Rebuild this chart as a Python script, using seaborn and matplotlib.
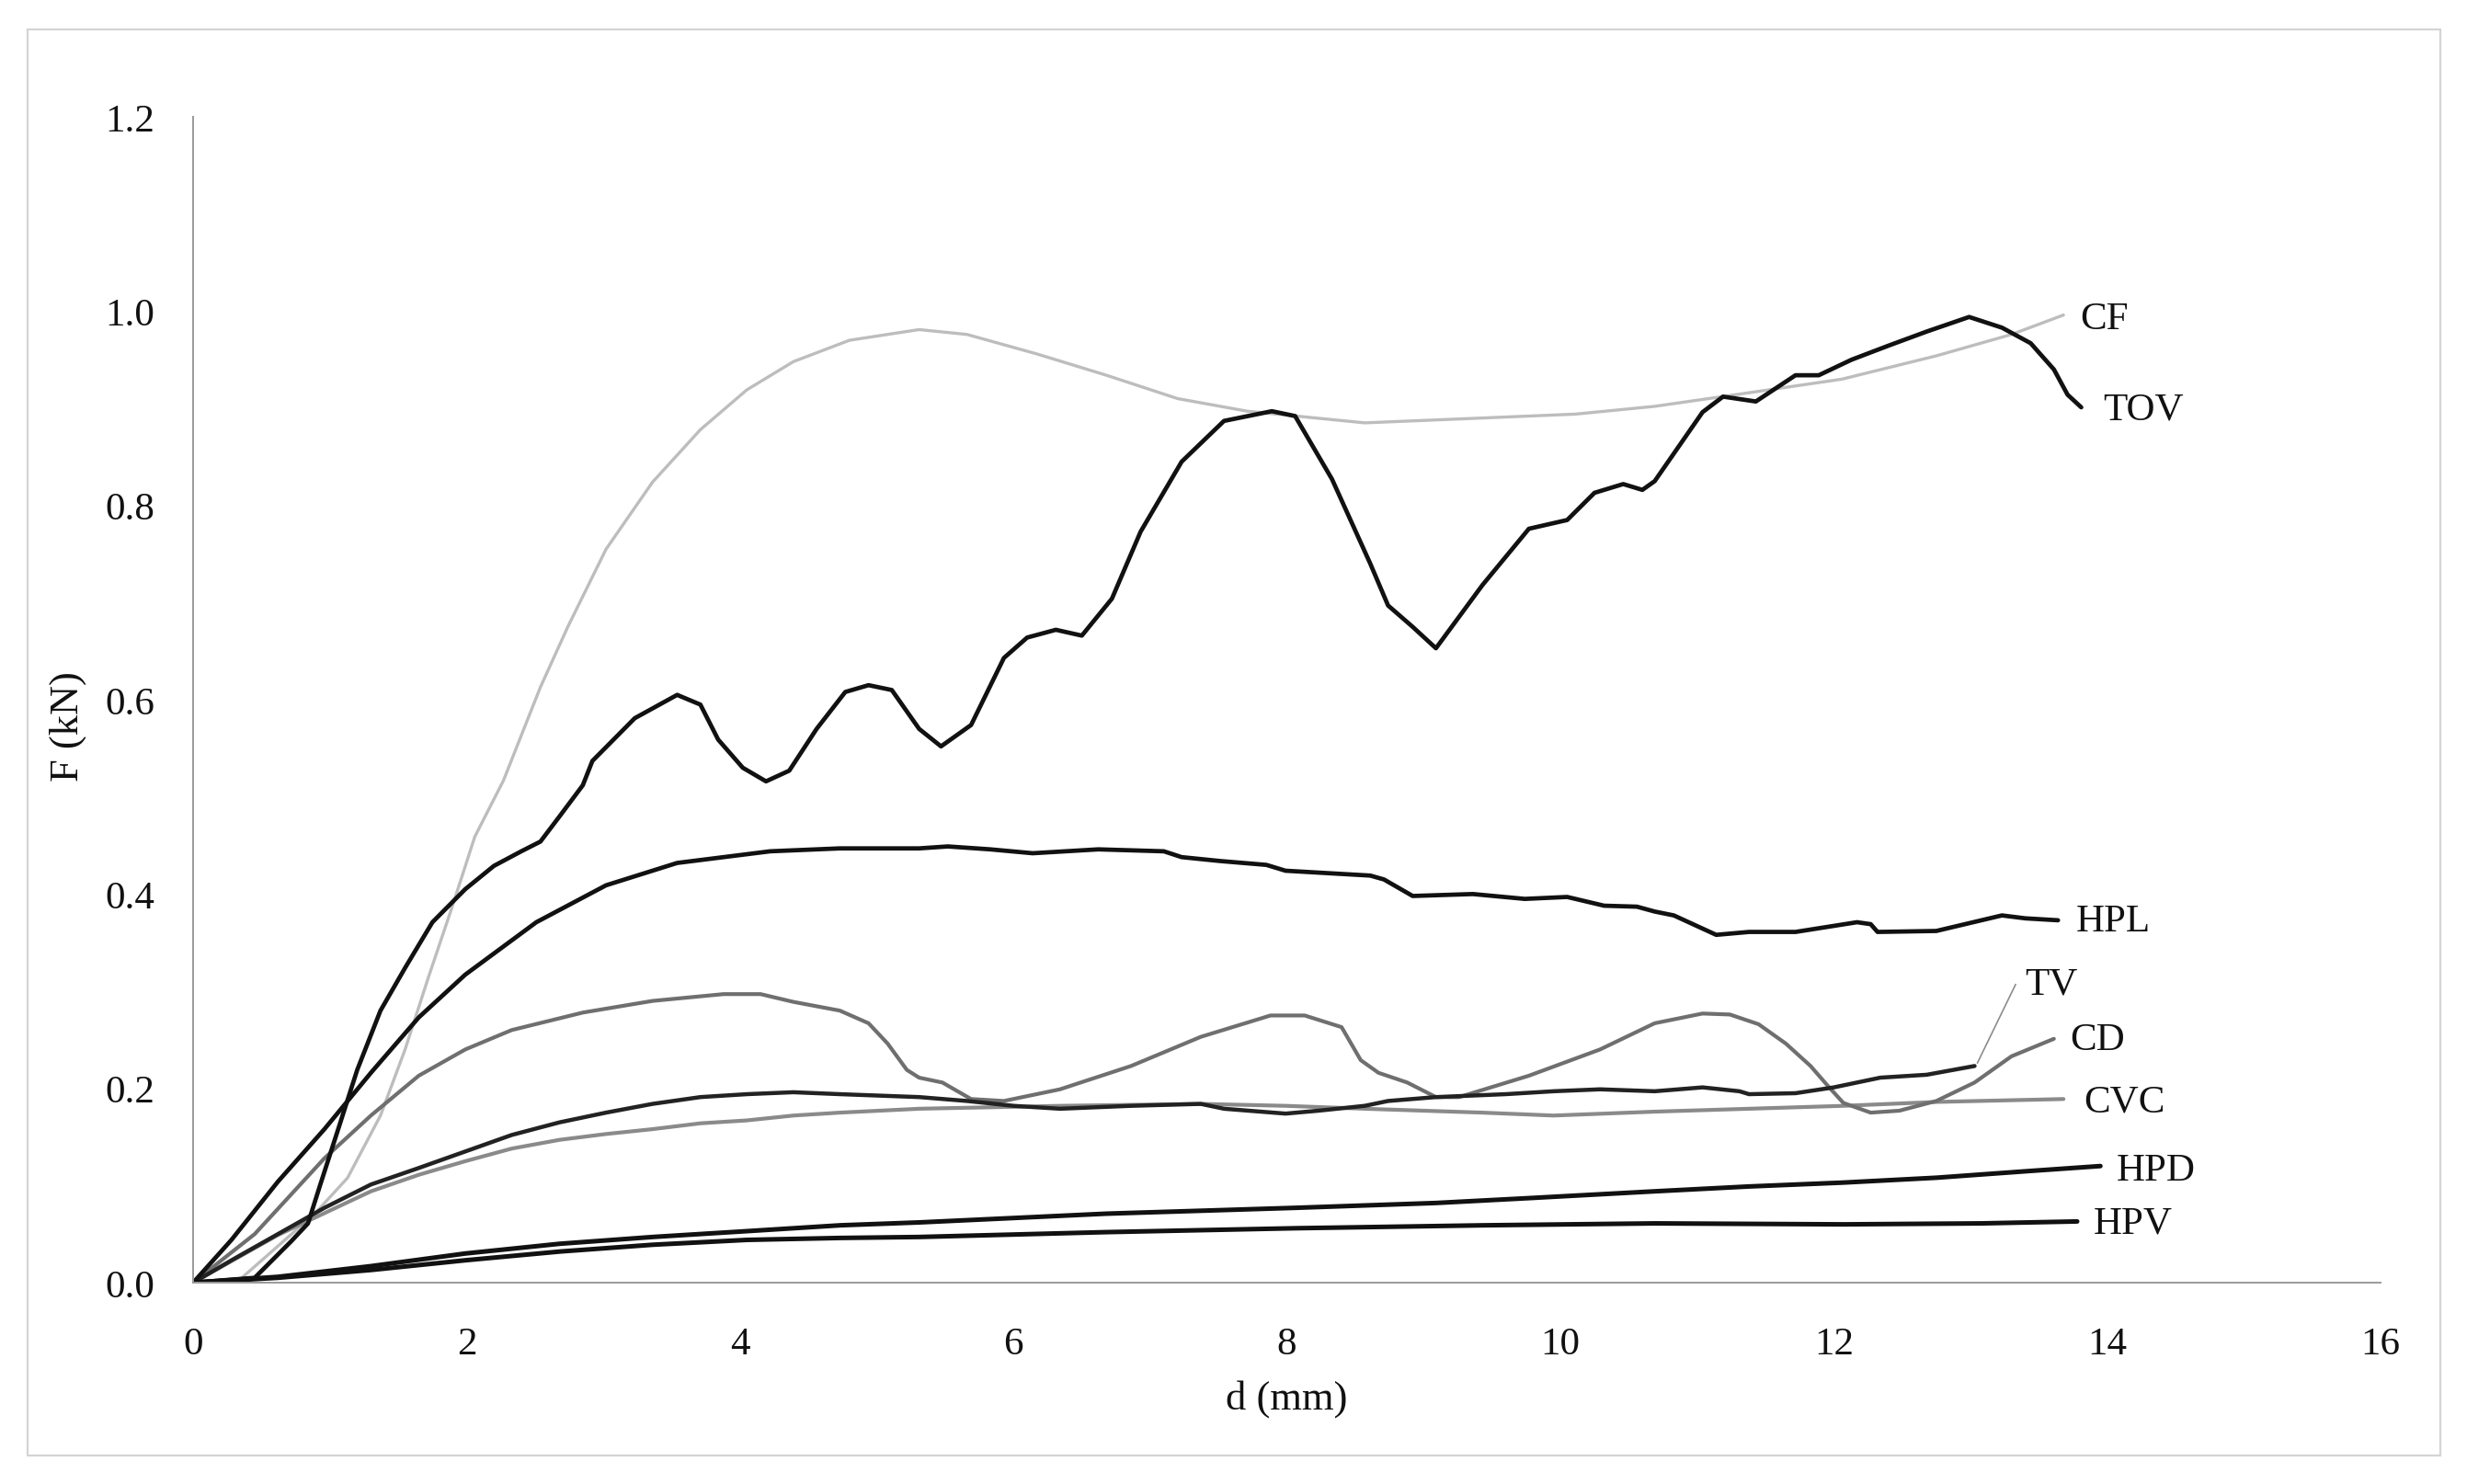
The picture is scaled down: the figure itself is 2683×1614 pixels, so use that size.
import matplotlib
matplotlib.use("Agg")
import matplotlib.pyplot as plt
import seaborn as sns
from matplotlib.patches import Rectangle

# Force-displacement curves (d in mm, F in kN)
cf_d = [0, 0.34, 0.89, 1.13, 1.37, 1.55, 1.72, 1.89, 2.06, 2.27, 2.54, 2.74, 3.02, 3.36, 3.71,
        4.05, 4.39, 4.80, 5.31, 5.66, 6.17, 6.68, 7.20, 7.71, 8.57, 9.43, 10.11, 10.69, 11.38,
        12.06, 12.75, 13.30, 13.68]
cf_f = [0, 0.003, 0.071, 0.108, 0.172, 0.240, 0.314, 0.385, 0.459, 0.517, 0.613, 0.675, 0.755,
        0.824, 0.878, 0.919, 0.948, 0.970, 0.981, 0.976, 0.956, 0.934, 0.910, 0.897, 0.885,
        0.890, 0.894, 0.902, 0.916, 0.930, 0.954, 0.976, 0.996]

tov_d = [0, 0.45, 0.72, 0.84, 0.93, 1.07, 1.20, 1.37, 1.55, 1.75, 1.99, 2.20, 2.40, 2.54, 2.68,
         2.85, 2.92, 3.23, 3.54, 3.71, 3.84, 4.02, 4.19, 4.36, 4.56, 4.77, 4.94, 5.11, 5.31,
         5.47, 5.69, 5.93, 6.10, 6.31, 6.50, 6.72, 6.93, 7.23, 7.54, 7.89, 8.06, 8.33, 8.61,
         8.74, 8.92, 9.09, 9.43, 9.77, 10.05, 10.25, 10.46, 10.60, 10.69, 11.04, 11.19, 11.43,
         11.72, 11.89, 12.13, 12.41, 12.68, 12.99, 13.23, 13.44, 13.61, 13.71, 13.81]
tov_f = [0, 0.005, 0.043, 0.061, 0.101, 0.162, 0.219, 0.280, 0.324, 0.371, 0.405, 0.429, 0.444,
         0.454, 0.480, 0.512, 0.537, 0.581, 0.605, 0.595, 0.559, 0.530, 0.516, 0.527, 0.570,
         0.608, 0.615, 0.610, 0.570, 0.552, 0.574, 0.643, 0.664, 0.672, 0.666, 0.704, 0.773,
         0.845, 0.887, 0.897, 0.892, 0.827, 0.740, 0.697, 0.675, 0.653, 0.718, 0.776, 0.785,
         0.813, 0.822, 0.816, 0.825, 0.896, 0.912, 0.907, 0.934, 0.934, 0.950, 0.965, 0.979,
         0.994, 0.983, 0.967, 0.940, 0.914, 0.901]

hpl_d = [0, 0.28, 0.62, 0.96, 1.30, 1.65, 1.99, 2.51, 3.02, 3.54, 4.22, 4.73, 5.31, 5.52, 5.83,
         6.14, 6.62, 7.10, 7.23, 7.51, 7.85, 7.99, 8.61, 8.71, 8.92, 9.36, 9.74, 10.05, 10.32,
         10.56, 10.69, 10.83, 11.14, 11.38, 11.72, 12.17, 12.27, 12.32, 12.75, 13.23, 13.40, 13.64]
hpl_f = [0, 0.044, 0.104, 0.158, 0.216, 0.273, 0.317, 0.371, 0.409, 0.432, 0.444, 0.447, 0.447,
         0.449, 0.446, 0.442, 0.446, 0.444, 0.438, 0.434, 0.430, 0.424, 0.419, 0.415, 0.398,
         0.400, 0.395, 0.397, 0.388, 0.387, 0.382, 0.378, 0.358, 0.361, 0.361, 0.371, 0.369,
         0.361, 0.362, 0.378, 0.375, 0.373]

cd_d = [0, 0.45, 0.96, 1.30, 1.65, 1.99, 2.33, 2.85, 3.36, 3.88, 4.15, 4.39, 4.73, 4.94, 5.08,
        5.22, 5.31, 5.48, 5.69, 5.93, 6.34, 6.86, 7.37, 7.88, 8.13, 8.40, 8.54, 8.67, 8.88, 9.09,
        9.26, 9.77, 10.29, 10.69, 11.04, 11.24, 11.45, 11.65, 11.83, 11.96, 12.07, 12.27, 12.48,
        12.75, 13.03, 13.30, 13.61]
cd_f = [0, 0.050, 0.128, 0.172, 0.213, 0.240, 0.260, 0.278, 0.290, 0.297, 0.297, 0.289, 0.280,
        0.267, 0.246, 0.219, 0.211, 0.206, 0.189, 0.187, 0.199, 0.223, 0.253, 0.275, 0.275,
        0.263, 0.229, 0.216, 0.206, 0.191, 0.191, 0.213, 0.240, 0.267, 0.277, 0.276, 0.266,
        0.246, 0.223, 0.202, 0.185, 0.175, 0.177, 0.187, 0.206, 0.233, 0.251]

tv_d = [0, 0.28, 0.62, 0.96, 1.30, 1.65, 1.99, 2.33, 2.68, 3.02, 3.36, 3.71, 4.05, 4.39, 4.73,
        5.31, 5.66, 6.00, 6.34, 6.86, 7.37, 7.54, 7.99, 8.23, 8.57, 8.74, 9.09, 9.60, 9.95,
        10.29, 10.69, 11.04, 11.31, 11.38, 11.72, 12.00, 12.34, 12.68, 13.03]
tv_f = [0, 0.023, 0.050, 0.077, 0.101, 0.118, 0.135, 0.152, 0.165, 0.175, 0.184, 0.191, 0.194,
        0.196, 0.194, 0.191, 0.187, 0.182, 0.179, 0.182, 0.184, 0.179, 0.174, 0.177, 0.182,
        0.187, 0.191, 0.194, 0.197, 0.199, 0.197, 0.201, 0.197, 0.194, 0.195, 0.201, 0.211,
        0.214, 0.223]

cvc_d = [0, 0.62, 1.30, 1.65, 1.99, 2.33, 2.68, 3.02, 3.36, 3.71, 4.05, 4.39, 4.73, 5.31, 6.34,
         7.37, 7.99, 8.57, 9.43, 9.95, 10.69, 11.38, 12.07, 12.75, 13.68]
cvc_f = [0, 0.049, 0.094, 0.111, 0.125, 0.138, 0.147, 0.153, 0.158, 0.164, 0.167, 0.172, 0.175,
         0.179, 0.182, 0.184, 0.182, 0.179, 0.175, 0.172, 0.176, 0.179, 0.182, 0.186, 0.189]

hpd_d = [0, 0.62, 1.30, 1.99, 2.68, 3.36, 4.05, 4.73, 5.31, 6.68, 8.06, 9.09, 9.77, 10.69, 11.38,
         12.07, 12.75, 13.44, 13.95]
hpd_f = [0, 0.006, 0.017, 0.030, 0.040, 0.047, 0.053, 0.059, 0.062, 0.071, 0.077, 0.082, 0.087,
         0.094, 0.099, 0.103, 0.108, 0.115, 0.120]

hpv_d = [0, 0.62, 1.30, 1.99, 2.68, 3.36, 4.05, 4.73, 5.31, 6.68, 8.06, 9.43, 10.69, 12.07,
         13.08, 13.78]
hpv_f = [0, 0.005, 0.013, 0.023, 0.032, 0.039, 0.044, 0.046, 0.047, 0.052, 0.056, 0.059, 0.061,
         0.060, 0.061, 0.063]

# series name, label anchor (d, F)
labels = ["CF", "TOV", "HPL", "TV", "CD", "CVC", "HPD", "HPV"]
label_d = [13.80, 13.97, 13.77, 13.40, 13.73, 13.83, 14.07, 13.90]
label_f = [0.992, 0.899, 0.372, 0.307, 0.250, 0.186, 0.116, 0.061]

sns.set_style("white")
plt.rcParams["font.family"] = ["Liberation Serif", "DejaVu Serif"]
plt.rcParams["font.size"] = 15.5

fig = plt.figure(figsize=(13.415, 8.075), dpi=200)
ax = fig.add_axes([0.0783, 0.1356, 0.8867, 0.7851])

curves = [
    (cf_d, cf_f, "#bdbdbd", 1.2),
    (cvc_d, cvc_f, "#8a8a8a", 1.5),
    (cd_d, cd_f, "#6f6f6f", 1.5),
    (tv_d, tv_f, "#222222", 1.6),
    (hpl_d, hpl_f, "#111111", 1.7),
    (hpd_d, hpd_f, "#111111", 1.8),
    (hpv_d, hpv_f, "#111111", 1.8),
    (tov_d, tov_f, "#111111", 1.7),
]
for d, f, col, lw in curves:
    sns.lineplot(x=d, y=f, ax=ax, color=col, linewidth=lw, estimator=None, sort=False)

# leader line for TV label
ax.plot([13.05, 13.33], [0.226, 0.307], color="#8c8c8c", lw=0.6)

for name, xd, yf in zip(labels, label_d, label_f):
    ax.text(xd, yf, name, ha="left", va="center", fontsize=15.5, color="#111111")

ax.set_xlim(0, 16)
ax.set_ylim(0, 1.2)
ax.set_xticks(range(0, 17, 2))
ax.set_yticks([0.0, 0.2, 0.4, 0.6, 0.8, 1.0, 1.2])
ax.set_yticklabels([f"{v:.1f}" for v in [0.0, 0.2, 0.4, 0.6, 0.8, 1.0, 1.2]])
ax.tick_params(axis="x", length=0, pad=17, labelsize=15.5, colors="#111111")
ax.tick_params(axis="y", length=0, pad=15, labelsize=15.5, colors="#111111")

for s in ["top", "right"]:
    ax.spines[s].set_visible(False)
for s in ["left", "bottom"]:
    ax.spines[s].set_color("#9a9a9a")
    ax.spines[s].set_linewidth(0.7)

ax.set_xlabel("d (mm)", fontsize=16, color="#111111")
ax.set_ylabel("F (kN)", fontsize=16, color="#111111")
ax.xaxis.set_label_coords(0.5, -0.083)
ax.yaxis.set_label_coords(-0.049, 0.478)

# light frame round the whole chart
fig.patches.append(Rectangle((0.0112, 0.0192), 0.978, 0.9604, transform=fig.transFigure,
                             fill=False, edgecolor="#d4d4d4", linewidth=0.8))

fig.savefig("out.png", dpi=200)
